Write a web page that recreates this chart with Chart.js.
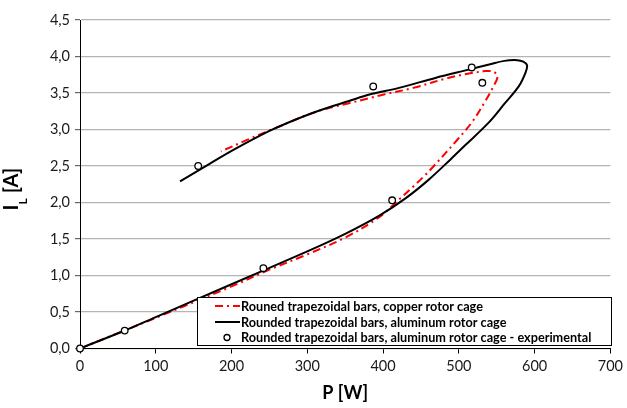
<!DOCTYPE html>
<html>
<head>
<meta charset="utf-8">
<title>I_L vs P</title>
<script src="https://cdn.jsdelivr.net/npm/chart.js@4.4.0/dist/chart.umd.min.js"></script>
<style>
  html, body { margin: 0; padding: 0; background: #fff; }
  #wrap { position: relative; width: 627px; height: 408px; }
</style>
</head>
<body>
<div id="wrap"><canvas id="currentChart" width="627" height="408"></canvas></div>
<script>
// Line current vs. power, copper cage (simulated)
const cuPower   = [0, 100, 200, 250, 300, 350, 395, 421, 440, 454, 467, 498, 518, 535, 545, 551, 546, 535, 510, 487, 440, 401, 382, 355, 320, 290, 263, 246, 219, 186];
const cuCurrent = [0, 0.42, 0.85, 1.08, 1.29, 1.52, 1.80, 2.04, 2.22, 2.36, 2.50, 2.86, 3.11, 3.39, 3.58, 3.72, 3.79, 3.80, 3.76, 3.71, 3.57, 3.48, 3.43, 3.36, 3.27, 3.16, 3.04, 2.97, 2.85, 2.70];

// Line current vs. power, aluminum cage (simulated)
const alPower   = [0, 60, 100, 200, 300, 350, 395, 430, 460, 489, 509, 539, 560, 579, 588, 590, 585, 577, 560, 540, 513, 470, 421, 382, 355, 316, 276, 250, 206, 171, 132];
const alCurrent = [0, 0.25, 0.43, 0.88, 1.33, 1.57, 1.82, 2.06, 2.31, 2.59, 2.79, 3.09, 3.35, 3.59, 3.78, 3.88, 3.93, 3.95, 3.94, 3.89, 3.82, 3.71, 3.57, 3.48, 3.39, 3.26, 3.10, 2.98, 2.74, 2.53, 2.29];

// Measured points, aluminum cage
const expPower   = [0, 59, 242, 412, 531, 517, 387, 156];
const expCurrent = [0, 0.245, 1.10, 2.03, 3.64, 3.85, 3.59, 2.50];

const xMin = 0, xMax = 700, xStep = 100;
const yMin = 0, yMax = 4.5, yStep = 0.5;

const seriesLabels = [
    'Rouned trapezoidal bars, copper rotor cage',
    'Rounded trapezoidal bars, aluminum rotor cage',
    'Rounded trapezoidal bars, aluminum rotor cage - experimental'
];

const FONT = 'Lato, "Open Sans", sans-serif';

function toPoints(xs, ys) {
    return xs.map((x, i) => ({ x: x, y: ys[i] }));
}

// Draws the boxed legend inside the plot and the y title with its subscript
const decorations = {
    id: 'decorations',
    afterDraw(chart) {
        const ctx = chart.ctx;
        const sets = chart.data.datasets;

        // legend box
        const bx = 197.5, by = 297.5, bw = 414, bh = 48;
        ctx.save();
        ctx.fillStyle = '#fff';
        ctx.fillRect(bx, by, bw, bh);
        ctx.strokeStyle = '#000';
        ctx.lineWidth = 1;
        ctx.strokeRect(bx, by, bw, bh);

        const rows = [306, 322, 337.5];
        ctx.font = 'bold 12.7px ' + FONT;
        ctx.textBaseline = 'middle';
        ctx.fillStyle = '#000';
        sets.forEach((ds, i) => {
            const y = rows[i];
            if (ds.showLine) {
                ctx.save();
                ctx.strokeStyle = ds.borderColor;
                ctx.lineWidth = ds.borderWidth;
                ctx.setLineDash(ds.borderDash || []);
                ctx.beginPath();
                ctx.moveTo(215, y);
                ctx.lineTo(240, y);
                ctx.stroke();
                ctx.restore();
            } else {
                ctx.beginPath();
                ctx.arc(227, y, 3, 0, Math.PI * 2);
                ctx.lineWidth = 1.3;
                ctx.strokeStyle = '#000';
                ctx.stroke();
            }
            ctx.fillText(ds.label, 241, y + 0.5);
        });
        ctx.restore();

        // y axis title: I with subscript L, then [A]
        ctx.save();
        ctx.translate(18, 189);
        ctx.rotate(-Math.PI / 2);
        ctx.fillStyle = '#000';
        ctx.textBaseline = 'alphabetic';
        const big = 'bold 20px ' + FONT, small = 'bold 12px ' + FONT;
        ctx.font = big;
        const wI = ctx.measureText('I').width;
        const wRest = ctx.measureText(' [A]').width;
        ctx.font = small;
        const wL = ctx.measureText('L').width;
        let x = -(wI + wL + wRest) / 2;
        ctx.font = big;
        ctx.fillText('I', x, 0);
        x += wI;
        ctx.font = small;
        ctx.fillText('L', x, 9);
        x += wL;
        ctx.font = big;
        ctx.fillText(' [A]', x, 0);
        ctx.restore();
    }
};

const chart = new Chart(document.getElementById('currentChart').getContext('2d'), {
    type: 'scatter',
    data: {
        datasets: [
            {
                label: seriesLabels[0],
                data: toPoints(cuPower, cuCurrent),
                showLine: true,
                borderColor: '#ff0000',
                borderWidth: 2,
                borderDash: [8, 4, 2, 4],
                pointRadius: 0,
                tension: 0.35,
                order: 2
            },
            {
                label: seriesLabels[1],
                data: toPoints(alPower, alCurrent),
                showLine: true,
                borderColor: '#000000',
                borderWidth: 2,
                pointRadius: 0,
                tension: 0.35,
                order: 1
            },
            {
                label: seriesLabels[2],
                data: toPoints(expPower, expCurrent),
                showLine: false,
                pointStyle: 'circle',
                pointRadius: 3.3,
                pointBorderWidth: 1.3,
                borderColor: '#000000',
                backgroundColor: '#ffffff',
                clip: false,
                order: 0
            }
        ]
    },
    options: {
        responsive: false,
        animation: false,
        devicePixelRatio: 1,
        layout: { padding: { left: 0, right: 15, top: 20, bottom: 0 } },
        plugins: {
            legend: { display: false },
            tooltip: { enabled: false }
        },
        scales: {
            x: {
                type: 'linear',
                min: xMin,
                max: xMax,
                ticks: {
                    stepSize: xStep,
                    color: '#1a1a1a',
                    font: { family: FONT, size: 14.5 },
                    padding: 4
                },
                grid: {
                    drawOnChartArea: false,
                    drawTicks: true,
                    tickLength: 5,
                    color: '#000'
                },
                border: { color: '#000', width: 1 },
                title: {
                    display: true,
                    text: 'P [W]',
                    color: '#000',
                    font: { family: FONT, size: 18, weight: 'bold' },
                    padding: { top: 5 }
                },
                afterFit(scale) { scale.height = 59.5; }
            },
            y: {
                type: 'linear',
                min: yMin,
                max: yMax,
                ticks: {
                    stepSize: yStep,
                    color: '#1a1a1a',
                    font: { family: FONT, size: 14.5 },
                    padding: 5,
                    callback: v => v.toFixed(1).replace('.', ',')
                },
                grid: {
                    color: '#b4b4b4',
                    lineWidth: 1.2,
                    tickLength: 5,
                    tickColor: '#666'
                },
                border: { color: '#000', width: 1 },
                afterFit(scale) { scale.width = 80; }
            }
        }
    },
    plugins: [decorations]
});
</script>
</body>
</html>
